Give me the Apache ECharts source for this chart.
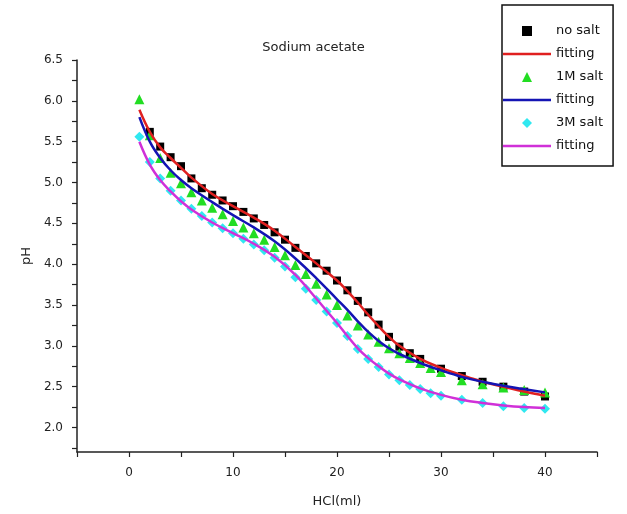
<!DOCTYPE html>
<html>
<head>
<meta charset="utf-8">
<script src="https://cdn.jsdelivr.net/npm/echarts@6/dist/echarts.min.js"></script>
<style>html,body{margin:0;padding:0;background:#fff;}#c{width:627px;height:514px;}</style>
</head>
<body>
<div id="c"></div>
<script>
// ---- data (x = HCl ml, y = pH) ----
var noSaltX = [2,3,4,5,6,7,8,9,10,11,12,13,14,15,16,17,18,19,20,21,22,23,24,25,26,27,28,30,32,34,36,38,40];
var noSaltY = [5.62,5.44,5.31,5.20,5.05,4.93,4.85,4.78,4.71,4.64,4.56,4.48,4.39,4.30,4.20,4.10,4.01,3.92,3.80,3.68,3.55,3.41,3.26,3.11,2.99,2.91,2.84,2.72,2.63,2.56,2.50,2.44,2.38];
var fit1X = [1,2,3,4,5,6,8,10,12,14,16,18,20,21,22,23,24,25,26,28,30,32,34,36,38,40];
var fit1Y = [5.89,5.62,5.43,5.30,5.18,5.06,4.86,4.71,4.57,4.41,4.21,4.01,3.80,3.67,3.53,3.38,3.24,3.11,3.00,2.84,2.73,2.64,2.56,2.50,2.44,2.39];

var salt1X = [1,2,3,4,5,6,7,8,9,10,11,12,13,14,15,16,17,18,19,20,21,22,23,24,25,26,27,28,29,30,32,34,36,38,40];
var salt1Y = [6.02,5.58,5.30,5.12,4.99,4.88,4.78,4.69,4.61,4.53,4.45,4.38,4.30,4.21,4.11,3.99,3.88,3.76,3.63,3.50,3.37,3.25,3.14,3.05,2.97,2.91,2.85,2.79,2.73,2.68,2.58,2.53,2.49,2.46,2.43];
var fit2X = [1,2,3,4,5,6,8,10,12,14,16,18,20,21,22,23,24,25,26,28,30,32,34,36,38,40];
var fit2Y = [5.80,5.50,5.30,5.15,5.03,4.93,4.76,4.60,4.45,4.28,4.07,3.83,3.57,3.44,3.30,3.17,3.06,2.97,2.90,2.79,2.70,2.62,2.56,2.51,2.47,2.43];

var salt3X = [1,2,3,4,5,6,7,8,9,10,11,12,13,14,15,16,17,18,19,20,21,22,23,24,25,26,27,28,29,30,32,34,36,38,40];
var salt3Y = [5.56,5.25,5.05,4.90,4.78,4.68,4.59,4.51,4.44,4.38,4.31,4.24,4.17,4.08,3.97,3.84,3.70,3.56,3.42,3.28,3.12,2.96,2.84,2.74,2.65,2.58,2.52,2.47,2.42,2.39,2.34,2.30,2.26,2.24,2.23];
var fit3X = [1,2,3,4,5,6,8,10,12,14,16,18,19,20,21,22,23,24,25,26,28,30,32,34,36,38,40];
var fit3Y = [5.50,5.22,5.03,4.89,4.77,4.67,4.51,4.38,4.25,4.09,3.87,3.58,3.43,3.28,3.12,2.97,2.85,2.75,2.66,2.59,2.48,2.40,2.34,2.30,2.27,2.25,2.24];

var legendLabels = {s0:'no salt', f1:'fitting', s1:'1M salt', f2:'fitting', s3:'3M salt', f3:'fitting'};
var yLabelValues = [2.0,2.5,3.0,3.5,4.0,4.5,5.0,5.5,6.0,6.5];
var yTickValues = [1.75,2.0,2.25,2.5,2.75,3.0,3.25,3.5,3.75,4.0,4.25,4.5,4.75,5.0,5.25,5.5,5.75,6.0,6.25,6.5];
var xLabelValues = [0,10,20,30,40];

function pairs(xs, ys){ return xs.map(function(x,i){ return [x, ys[i]]; }); }

var FONT = 'DejaVu Sans';
var LINE_ICON = 'path://M0,0L96,0L96,5L0,5Z';
var SQUARE_ICON = 'path://M1,1L9,1L9,9L1,9Z';
var TRI_ICON = 'path://M5,0L10,10L0,10Z';
var DIA_ICON = 'path://M5,0L10,5L5,10L0,5Z';
var chart = echarts.init(document.getElementById('c'), null, {renderer:'canvas'});
chart.setOption({
  animation:false,
  backgroundColor:'#ffffff',
  title:{ text:'Sodium acetate', left:'center', top:36,
    textStyle:{ fontFamily:FONT, fontSize:13, fontWeight:'normal', color:'#222' } },
  legend:{
    orient:'vertical', left:502, top:5,
    padding:[18,10,12,1],
    borderColor:'#111', borderWidth:1.5,
    itemWidth:48, itemHeight:10, itemGap:7, itemTextGap:5,
    symbolKeepAspect:true,
    textStyle:{ fontFamily:FONT, fontSize:13, color:'#111', lineHeight:16 },
    formatter:function(n){ return legendLabels[n]; },
    data:[
      { name:'s0', icon:SQUARE_ICON, itemStyle:{ color:'#000000', opacity:1 } },
      { name:'f1', icon:LINE_ICON, itemStyle:{ color:'#e02020', opacity:1 } },
      { name:'s1', icon:TRI_ICON, itemStyle:{ color:'#22dd22', opacity:1 } },
      { name:'f2', icon:LINE_ICON, itemStyle:{ color:'#1414b4', opacity:1 } },
      { name:'s3', icon:DIA_ICON, itemStyle:{ color:'#30e8f0', opacity:1 } },
      { name:'f3', icon:LINE_ICON, itemStyle:{ color:'#d030d8', opacity:1 } }
    ]
  },
  grid:{ left:77, right:30, top:60, bottom:62 },
  xAxis:{
    type:'value', min:-5, max:45, interval:5,
    name:'HCl(ml)', nameLocation:'middle', nameGap:43,
    nameTextStyle:{ fontFamily:FONT, fontSize:13, color:'#222' },
    axisLine:{ onZero:false, lineStyle:{ color:'#222', width:1.5 } },
    axisTick:{ show:true, length:5, lineStyle:{ color:'#222', width:1.2 } },
    axisLabel:{ fontFamily:FONT, fontSize:12, color:'#222', margin:15,
      formatter:function(v){ return xLabelValues.indexOf(v) >= 0 ? String(v) : ''; } },
    splitLine:{ show:false }
  },
  yAxis:{
    type:'value', min:1.7, max:6.5,
    name:'pH', nameLocation:'middle', nameGap:43,
    nameTextStyle:{ fontFamily:FONT, fontSize:13, color:'#222' },
    axisLine:{ show:true, onZero:false, lineStyle:{ color:'#222', width:1.5 } },
    axisTick:{ show:true, length:5, customValues:yTickValues, lineStyle:{ color:'#222', width:1.2 } },
    axisLabel:{ fontFamily:FONT, fontSize:12, color:'#222', margin:14, customValues:yLabelValues,
      formatter:function(v){ return v.toFixed(1); } },
    splitLine:{ show:false }
  },
  series:[
    { name:'s0', type:'scatter', data:pairs(noSaltX,noSaltY), symbol:'rect', symbolSize:8,
      itemStyle:{ color:'#000000', opacity:1 }, z:2 },
    { name:'f1', type:'line', data:pairs(fit1X,fit1Y), smooth:0.4, symbol:'none', showSymbol:false,
      lineStyle:{ color:'#e02020', width:2.5 }, itemStyle:{ color:'#e02020' }, z:4 },
    { name:'s1', type:'scatter', data:pairs(salt1X,salt1Y), symbol:'triangle', symbolSize:10,
      itemStyle:{ color:'#22dd22', opacity:1 }, z:2 },
    { name:'f2', type:'line', data:pairs(fit2X,fit2Y), smooth:0.4, symbol:'none', showSymbol:false,
      lineStyle:{ color:'#1414b4', width:2.5 }, itemStyle:{ color:'#1414b4' }, z:4 },
    { name:'s3', type:'scatter', data:pairs(salt3X,salt3Y), symbol:'diamond', symbolSize:10,
      itemStyle:{ color:'#30e8f0', opacity:1 }, z:2 },
    { name:'f3', type:'line', data:pairs(fit3X,fit3Y), smooth:0.4, symbol:'none', showSymbol:false,
      lineStyle:{ color:'#d030d8', width:2.5 }, itemStyle:{ color:'#d030d8' }, z:4 }
  ]
});
</script>
</body>
</html>
